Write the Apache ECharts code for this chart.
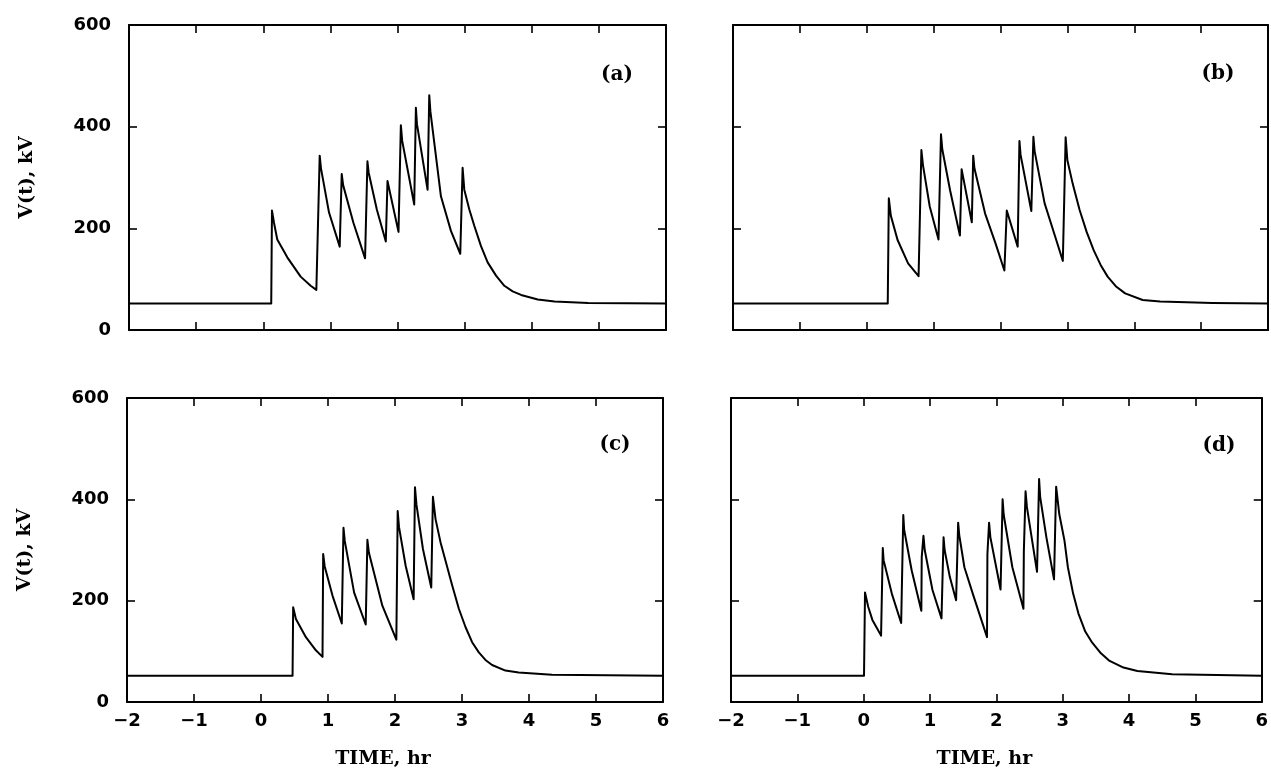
<!DOCTYPE html>
<html>
<head>
<meta charset="utf-8">
<script src="https://cdn.jsdelivr.net/npm/echarts@6/dist/echarts.min.js"></script>
<style>
html,body{margin:0;padding:0;background:#fff;}
#chart{width:1271px;height:772px;}
</style>
</head>
<body>
<div id="chart"></div>
<script>
// ---- data (time in hr, voltage in kV) ----
const tA = [-2, 0.119, 0.13, 0.16, 0.209, 0.358, 0.557, 0.706, 0.791, 0.841, 0.86, 0.98, 1.139, 1.169, 1.19, 1.343, 1.517, 1.552, 1.57, 1.692, 1.826, 1.851, 2.015, 2.05, 2.07, 2.249, 2.274, 2.29, 2.448, 2.473, 2.49, 2.647, 2.796, 2.935, 2.97, 2.995, 3.07, 3.144, 3.244, 3.343, 3.468, 3.592, 3.716, 3.841, 4.09, 4.34, 4.84, 6];
const vA = [52, 52, 235, 211, 178, 143, 105, 87, 79, 343, 318, 231, 164, 307, 285, 211, 141, 332, 310, 237, 174, 293, 193, 403, 372, 247, 437, 405, 276, 462, 430, 263, 195, 150, 319, 276, 237, 205, 165, 133, 107, 87, 76, 69, 60, 56, 53, 52];

const tB = [-2, 0.314, 0.33, 0.36, 0.461, 0.618, 0.775, 0.817, 0.84, 0.942, 1.073, 1.110, 1.13, 1.246, 1.393, 1.419, 1.571, 1.592, 1.61, 1.770, 1.927, 2.058, 2.094, 2.257, 2.283, 2.30, 2.461, 2.492, 2.51, 2.660, 2.817, 2.932, 2.974, 3.0, 3.079, 3.183, 3.288, 3.393, 3.497, 3.602, 3.733, 3.864, 4.126, 4.387, 5.17, 6];
const vB = [52, 52, 259, 225, 177, 131, 106, 354, 325, 243, 178, 385, 355, 275, 186, 316, 212, 343, 318, 229, 170, 117, 235, 164, 372, 345, 234, 380, 352, 249, 184, 136, 379, 334, 288, 236, 193, 157, 128, 105, 85, 72, 59, 56, 53, 52];

const tC = [-2, 0.471, 0.48, 0.521, 0.67, 0.819, 0.918, 0.928, 0.95, 1.067, 1.206, 1.231, 1.25, 1.39, 1.563, 1.588, 1.61, 1.811, 2.02, 2.04, 2.06, 2.159, 2.278, 2.298, 2.32, 2.417, 2.541, 2.566, 2.605, 2.680, 2.754, 2.854, 2.953, 3.052, 3.151, 3.251, 3.350, 3.449, 3.648, 3.846, 4.342, 6];
const vC = [52, 52, 187, 164, 128, 102, 89, 292, 268, 210, 155, 344, 318, 216, 153, 320, 295, 190, 123, 377, 345, 269, 203, 424, 390, 302, 226, 405, 361, 315, 279, 230, 184, 148, 118, 98, 83, 73, 62, 58, 54, 52];

const tD = [-2, 0.005, 0.02, 0.068, 0.131, 0.199, 0.262, 0.288, 0.30, 0.424, 0.565, 0.597, 0.61, 0.723, 0.869, 0.875, 0.901, 0.92, 1.037, 1.173, 1.204, 1.22, 1.298, 1.393, 1.424, 1.44, 1.518, 1.644, 1.859, 1.865, 1.890, 1.91, 2.063, 2.094, 2.11, 2.241, 2.408, 2.414, 2.440, 2.46, 2.613, 2.644, 2.66, 2.754, 2.869, 2.901, 2.948, 3.026, 3.078, 3.157, 3.236, 3.34, 3.445, 3.576, 3.707, 3.916, 4.126, 4.649, 6];
const vD = [52, 52, 216, 188, 162, 146, 131, 304, 280, 214, 156, 369, 340, 260, 180, 286, 328, 300, 221, 165, 325, 300, 247, 201, 354, 330, 266, 214, 128, 292, 354, 325, 222, 400, 370, 266, 184, 296, 416, 385, 257, 440, 405, 325, 242, 425, 371, 319, 266, 214, 175, 139, 117, 96, 81, 68, 61, 55, 52];

const panelLabels = ['(a)', '(b)', '(c)', '(d)'];
const xTicks = {min: -2, max: 6, step: 1};
const yTicks = {min: 0, max: 600, step: 200};
const xTitle = 'TIME, hr';
const yTitle = 'V(t), kV';

// ---- layout ----
const grids = [
  {left: 129, top: 25, width: 537, height: 305},
  {left: 733, top: 25, width: 535, height: 305},
  {left: 127, top: 398, width: 536, height: 304},
  {left: 731, top: 398, width: 534, height: 304}
];
const labelPos = [[617, 75], [1218, 74], [615, 445], [1219, 446]];
const series = [[tA, vA], [tB, vB], [tC, vC], [tD, vD]];

const tickFont = {color: '#000', fontFamily: 'DejaVu Sans', fontWeight: 'bold', fontSize: 18};
const lineBlack = {onZero: false, lineStyle: {color: '#000', width: 2}};
const tickInside = {show: true, inside: true, length: 8, lineStyle: {color: '#000', width: 1.6}};

const xAxes = [], yAxes = [];
grids.forEach((g, i) => {
  const bottomRow = i >= 2;
  const leftCol = i % 2 === 0;
  xAxes.push({
    type: 'value', gridIndex: i, position: 'bottom',
    min: xTicks.min, max: xTicks.max, interval: xTicks.step,
    axisLine: lineBlack, axisTick: tickInside, splitLine: {show: false},
    axisLabel: {show: bottomRow, margin: 10, ...tickFont,
      formatter: v => (v < 0 ? '\u2212' + Math.abs(v) : String(v))},
    name: bottomRow ? xTitle : '', nameLocation: 'middle', nameGap: 48,
    nameTextStyle: {color: '#000', fontFamily: 'DejaVu Serif', fontWeight: 'bold', fontSize: 19, padding: [0, 24, 0, 0]}
  });
  xAxes.push({
    type: 'value', gridIndex: i, position: 'top',
    min: xTicks.min, max: xTicks.max, interval: xTicks.step,
    axisLine: lineBlack, axisTick: tickInside, splitLine: {show: false},
    axisLabel: {show: false}
  });
  yAxes.push({
    type: 'value', gridIndex: i, position: 'left',
    min: yTicks.min, max: yTicks.max, interval: yTicks.step,
    axisLine: lineBlack, axisTick: tickInside, splitLine: {show: false},
    axisLabel: {show: leftCol, margin: 18, ...tickFont},
    name: leftCol ? yTitle : '', nameLocation: 'middle', nameGap: 92,
    nameTextStyle: {color: '#000', fontFamily: 'DejaVu Serif', fontWeight: 'bold', fontSize: 19}
  });
  yAxes.push({
    type: 'value', gridIndex: i, position: 'right',
    min: yTicks.min, max: yTicks.max, interval: yTicks.step,
    axisLine: lineBlack, axisTick: tickInside, splitLine: {show: false},
    axisLabel: {show: false}
  });
});

const seriesList = series.map((s, i) => ({
  type: 'line', xAxisIndex: i * 2, yAxisIndex: i * 2,
  data: s[0].map((t, k) => [t, s[1][k]]),
  showSymbol: false, animation: false,
  lineStyle: {color: '#000', width: 2, join: 'round'}, z: 3
}));

const graphics = panelLabels.map((lab, i) => ({
  type: 'text', x: labelPos[i][0], y: labelPos[i][1],
  style: {text: lab, fill: '#000', font: 'bold 20px "DejaVu Serif"', textAlign: 'center', textVerticalAlign: 'middle'}
}));

const chart = echarts.init(document.getElementById('chart'), null, {renderer: 'canvas'});
chart.setOption({
  backgroundColor: '#fff',
  animation: false,
  grid: grids,
  xAxis: xAxes,
  yAxis: yAxes,
  series: seriesList,
  graphic: graphics
});
</script>
</body>
</html>
